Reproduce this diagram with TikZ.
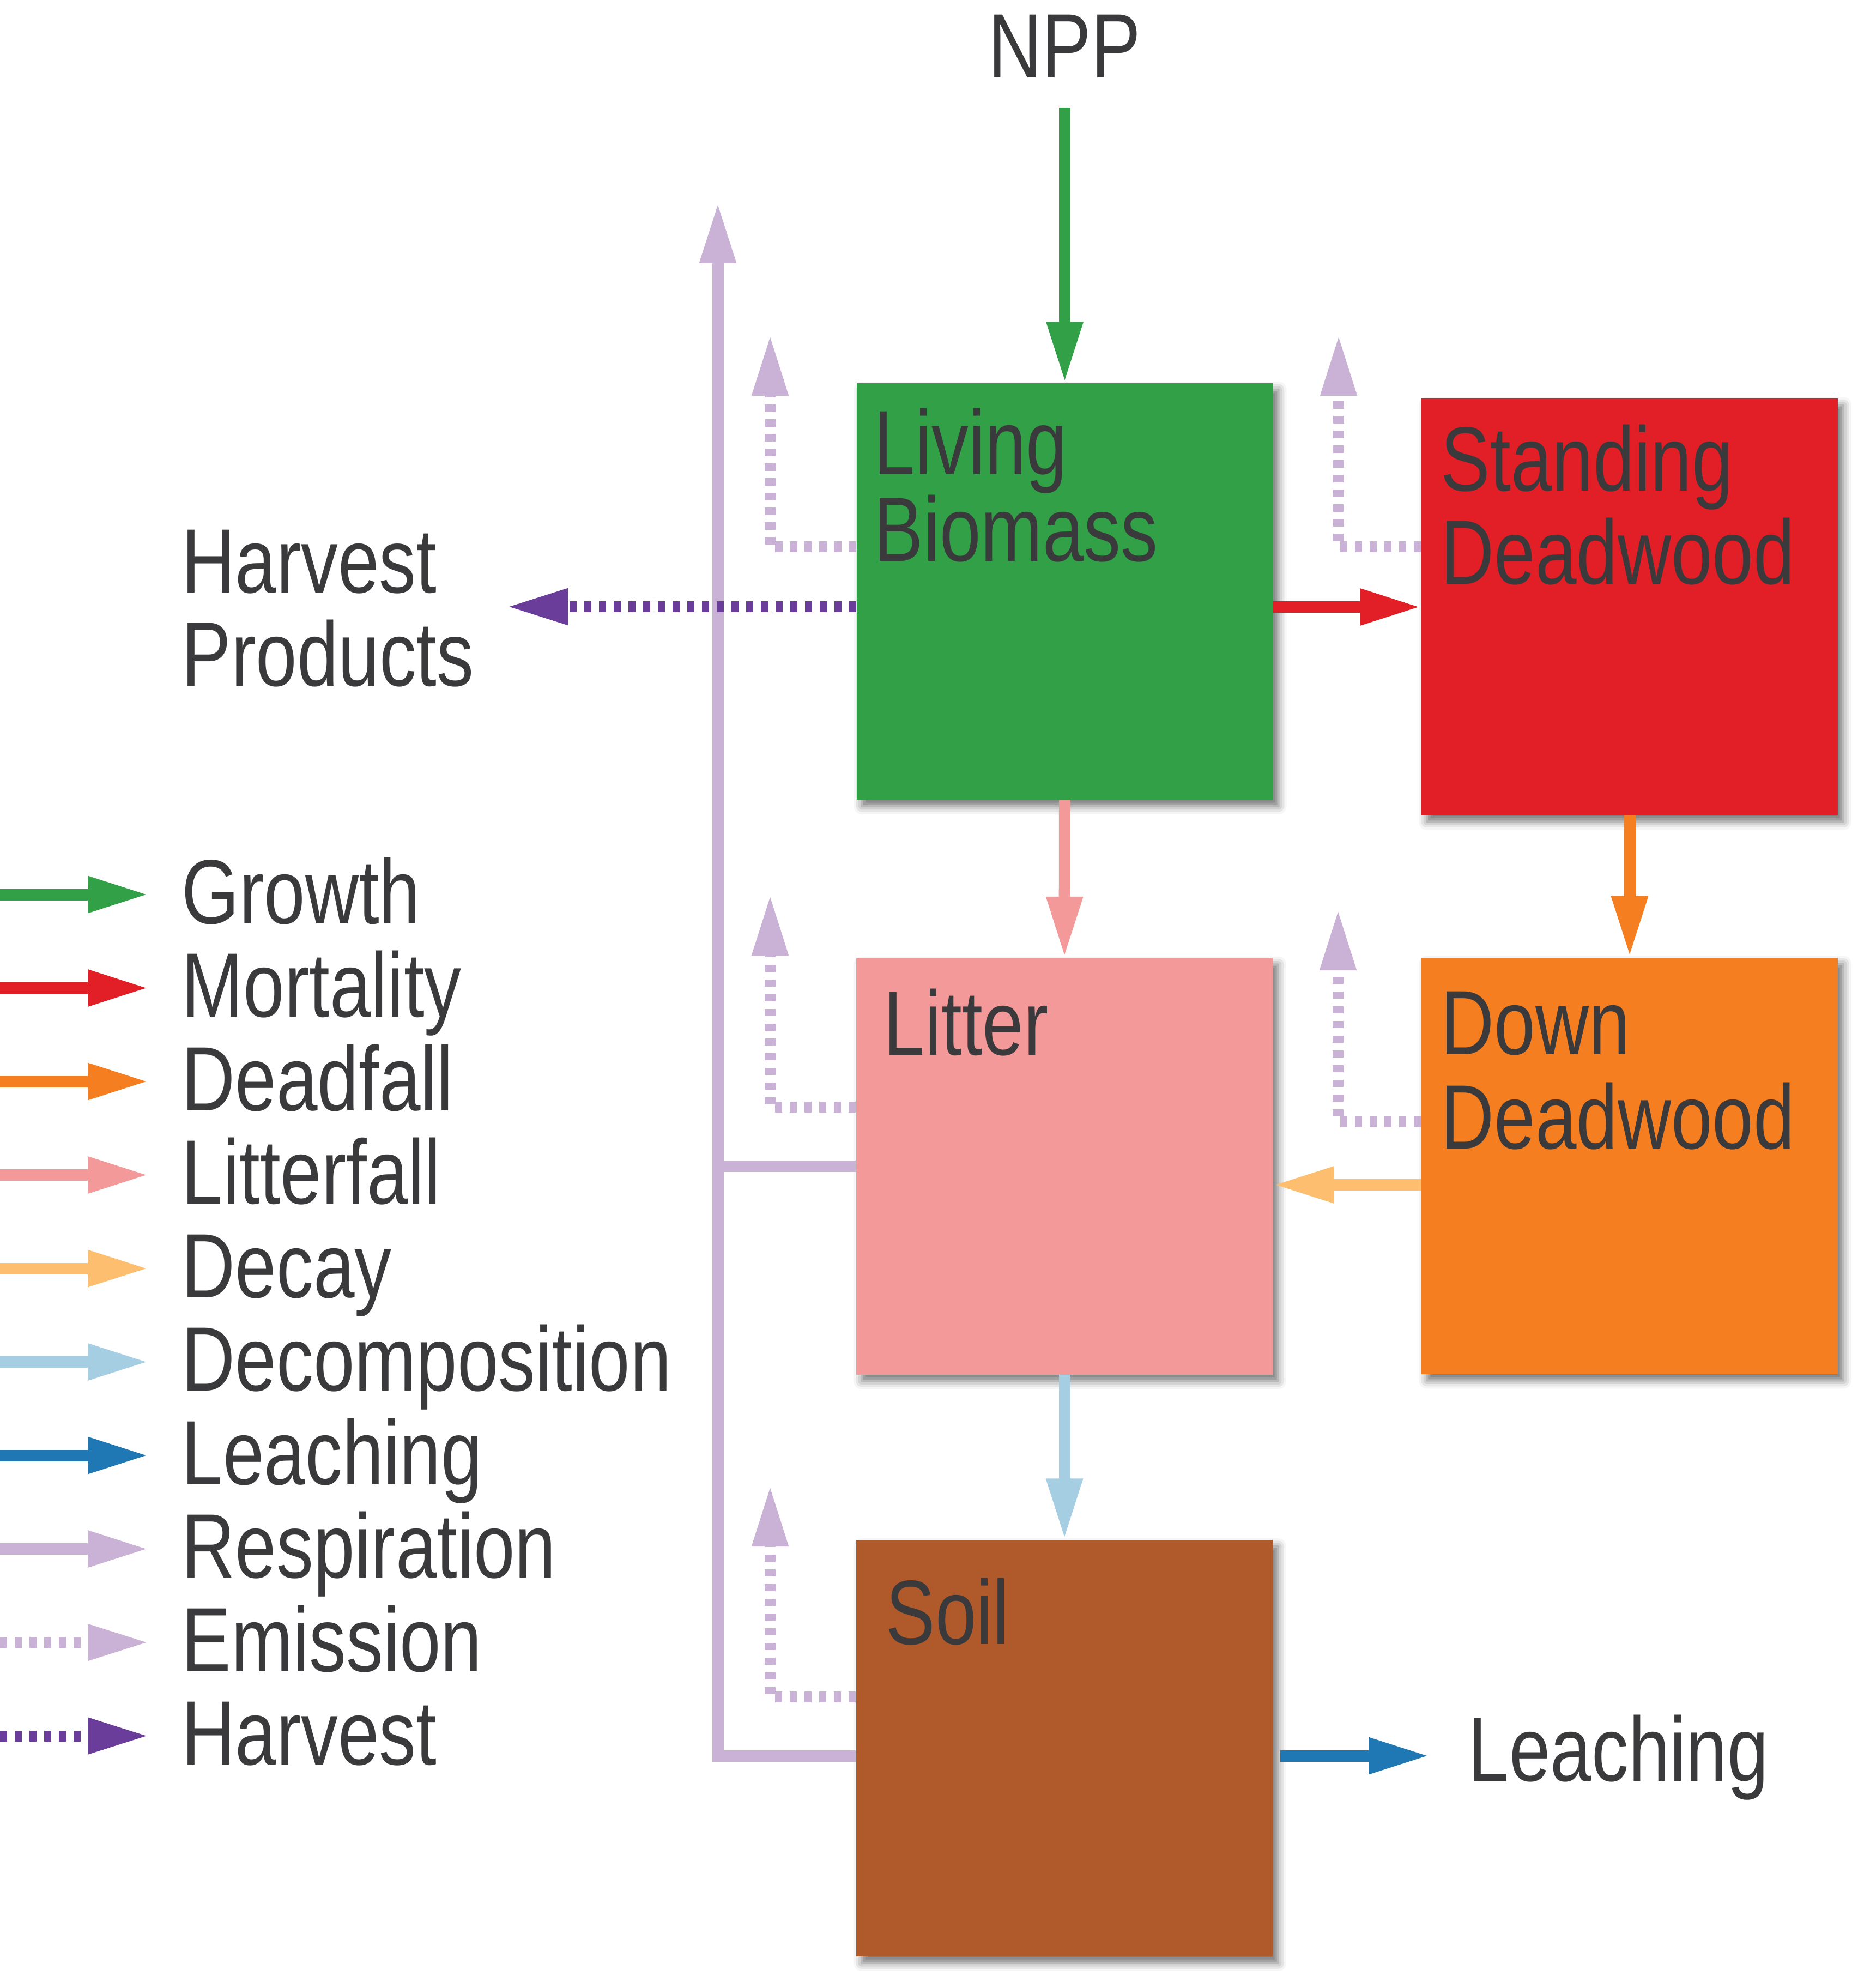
\documentclass[tikz,border=0pt]{standalone}
\usepackage{fontspec}
\setmainfont{Liberation Sans}[FakeStretch=0.81]
\usetikzlibrary{arrows.meta, positioning, shadows.blur}

\definecolor{txtgray}{RGB}{58,58,60}
\definecolor{cgrowth}{RGB}{49,160,71}
\definecolor{cmort}{RGB}{226,31,38}
\definecolor{cfall}{RGB}{244,126,32}
\definecolor{clitter}{RGB}{244,153,153}
\definecolor{csoil}{RGB}{176,89,42}
\definecolor{cdecay}{RGB}{253,191,111}
\definecolor{cdecomp}{RGB}{166,206,227}
\definecolor{cleach}{RGB}{31,120,180}
\definecolor{cresp}{RGB}{202,178,214}
\definecolor{charv}{RGB}{106,61,154}

\begin{document}
\begin{tikzpicture}[
    x=1cm, y=-1cm,
    every node/.style={inner sep=0pt, text=txtgray, font=\fontsize{47.7}{48.6}\selectfont},
    pool/.style={rectangle, minimum width=7.64cm, minimum height=7.64cm, inner sep=0pt,
        blur shadow={shadow xshift=0.1cm, shadow yshift=-0.12cm, shadow blur radius=0.15cm, shadow opacity=55}},
    flow/.style={line width=0.21cm, -{Triangle[length=1.12cm, width=0.62cm]}},
    growth/.style={flow, draw=cgrowth},
    mortal/.style={flow, draw=cmort},
    deadfall/.style={flow, draw=cfall},
    litfall/.style={flow, draw=clitter},
    decay/.style={flow, draw=cdecay},
    decomp/.style={flow, draw=cdecomp},
    leach/.style={flow, draw=cleach},
    respir/.style={flow, draw=cresp},
    resline/.style={line width=0.21cm, draw=cresp},
    emission/.style={flow, draw=cresp, line width=0.2cm, dash pattern=on 0.135cm off 0.135cm},
    harvest/.style={flow, draw=charv, line width=0.2cm, dash pattern=on 0.13cm off 0.14cm}
]
    \useasboundingbox (0,0) rectangle (34.30,36.47);

    % pools
    \node[pool, fill=cgrowth] (lb) at (19.535,10.85) {};
    \node[pool, fill=cmort] (sd) at (29.90,11.135) {};
    \node[pool, fill=clitter] (lit) at (19.53,21.395) {};
    \node[pool, fill=cfall] (dd) at (29.90,21.385) {};
    \node[pool, fill=csoil] (soil) at (19.53,32.07) {};

    \node[anchor=base west, align=left, font=\fontsize{47.7}{44.4}\selectfont] (lbtxt) at (16.03,10.30) {Living\\Biomass};
    \node[anchor=base west, align=left, font=\fontsize{47.7}{48.6}\selectfont] (sdtxt) at (26.43,10.71) {Standing\\Deadwood};
    \node[anchor=base west] (littxt) at (16.21,19.35) {Litter};
    \node[anchor=base west, align=left, font=\fontsize{47.7}{49.2}\selectfont] (ddtxt) at (26.43,21.07) {Down\\Deadwood};
    \node[anchor=base west] (soiltxt) at (16.25,30.16) {Soil};

    % outside labels
    \node[anchor=base] (npp) at (19.535,1.43) {NPP};
    \node[anchor=base west, align=left] (hptxt) at (3.33,12.58) {Harvest\\Products};
    \node[anchor=base west] (leachtxt) at (26.93,32.67) {Leaching};

    % respiration to the air
    \coordinate (rtop) at (13.17,3.71);
    \coordinate (soilr) at ([yshift=-0.14cm]soil.west);
    \draw[respir] (soilr) -| (rtop);
    \draw[resline] (lit.west) -- (lit.west -| rtop);

    % emissions
    \coordinate (lbem) at (14.13,6.14);
    \coordinate (sdem) at (24.56,6.14);
    \coordinate (litem) at (14.13,16.41);
    \coordinate (ddem) at (24.55,16.68);
    \coordinate (soilem) at (14.13,27.25);
    \draw[emission] ([yshift=0.82cm]lb.west) -| (lbem);
    \draw[emission] ([yshift=1.10cm]sd.west) -| (sdem);
    \draw[emission] ([yshift=1.085cm]lit.west) -| (litem);
    \draw[emission] ([yshift=0.805cm]dd.west) -| (ddem);
    \draw[emission] ([yshift=0.94cm]soil.west) -| (soilem);

    % harvest
    \coordinate (hpend) at (9.30,11.13);
    \draw[harvest] (lb.west |- hpend) -- (hpend);

    % transfers between pools
    \draw[growth, shorten <=0.54cm] (npp.south) -- (lb.north);
    \draw[mortal] (lb.east |- sd.west) -- (sd.west);
    \draw[deadfall] (sd.south) -- (dd.north);
    \draw[litfall] (lb.south) -- (lit.north);
    \coordinate (dkout) at ([yshift=-0.35cm]dd.west);
    \draw[decay] (dkout) -- (dkout -| lit.east);
    \draw[decomp] (lit.south) -- (soil.north);
    \draw[leach, shorten <=0.13cm, shorten >=0.70cm] (soilr -| soil.east) -- (soilr -| leachtxt.west);

    % legend
    \node[anchor=base west] (lgrowth) at (3.33,16.94) {Growth};
    \node[anchor=base west] (lmort) at (3.33,18.655) {Mortality};
    \node[anchor=base west] (lfall) at (3.33,20.37) {Deadfall};
    \node[anchor=base west] (llit) at (3.33,22.085) {Litterfall};
    \node[anchor=base west] (ldecay) at (3.33,23.80) {Decay};
    \node[anchor=base west] (ldecomp) at (3.33,25.515) {Decomposition};
    \node[anchor=base west] (lleach) at (3.33,27.23) {Leaching};
    \node[anchor=base west] (lresp) at (3.33,28.945) {Respiration};
    \node[anchor=base west] (lemis) at (3.33,30.66) {Emission};
    \node[anchor=base west] (lharv) at (3.33,32.375) {Harvest};

    \coordinate (lg1) at (0,16.41);
    \coordinate (lg2) at (0,18.125);
    \coordinate (lg3) at (0,19.84);
    \coordinate (lg4) at (0,21.555);
    \coordinate (lg5) at (0,23.27);
    \coordinate (lg6) at (0,24.985);
    \coordinate (lg7) at (0,26.70);
    \coordinate (lg8) at (0,28.415);
    \coordinate (lg9) at (0,30.13);
    \coordinate (lg10) at (0,31.845);
    \draw[growth, shorten >=0.60cm] (lg1) -- (lg1 -| lgrowth.west);
    \draw[mortal, shorten >=0.60cm] (lg2) -- (lg2 -| lmort.west);
    \draw[deadfall, shorten >=0.60cm] (lg3) -- (lg3 -| lfall.west);
    \draw[litfall, shorten >=0.60cm] (lg4) -- (lg4 -| llit.west);
    \draw[decay, shorten >=0.60cm] (lg5) -- (lg5 -| ldecay.west);
    \draw[decomp, shorten >=0.60cm] (lg6) -- (lg6 -| ldecomp.west);
    \draw[leach, shorten >=0.60cm] (lg7) -- (lg7 -| lleach.west);
    \draw[respir, shorten >=0.60cm] (lg8) -- (lg8 -| lresp.west);
    \draw[emission, shorten >=0.60cm] (lg9) -- (lg9 -| lemis.west);
    \draw[harvest, shorten >=0.60cm] (lg10) -- (lg10 -| lharv.west);
\end{tikzpicture}
\end{document}
